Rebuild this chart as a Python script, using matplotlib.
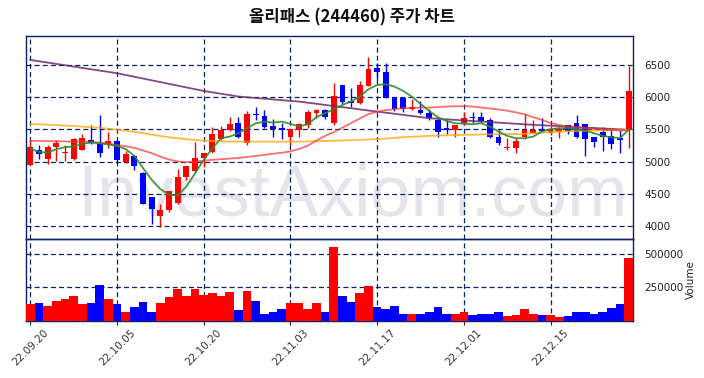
import matplotlib
matplotlib.use("Agg")
import matplotlib.pyplot as plt
import numpy as np

# ---------------- data ----------------
dates = ["22.09.20", "22.09.21", "22.09.22", "22.09.23", "22.09.26", "22.09.27", "22.09.28",
         "22.09.29", "22.09.30", "22.10.04", "22.10.05", "22.10.06", "22.10.07", "22.10.11",
         "22.10.12", "22.10.13", "22.10.14", "22.10.17", "22.10.18", "22.10.19", "22.10.20",
         "22.10.21", "22.10.24", "22.10.25", "22.10.26", "22.10.27", "22.10.28", "22.10.31",
         "22.11.01", "22.11.02", "22.11.03", "22.11.04", "22.11.07", "22.11.08", "22.11.09",
         "22.11.10", "22.11.11", "22.11.14", "22.11.15", "22.11.16", "22.11.17", "22.11.18",
         "22.11.21", "22.11.22", "22.11.23", "22.11.24", "22.11.25", "22.11.28", "22.11.29",
         "22.11.30", "22.12.01", "22.12.02", "22.12.05", "22.12.06", "22.12.07", "22.12.08",
         "22.12.09", "22.12.12", "22.12.13", "22.12.14", "22.12.15", "22.12.16", "22.12.19",
         "22.12.20", "22.12.21", "22.12.22", "22.12.23", "22.12.26", "22.12.27", "22.12.28"]

opens = [4947, 5184, 5040, 5226, 5140, 5045, 5190, 5339, 5277, 5277,
         5324, 4994, 5087, 4828, 4452, 4167, 4251, 4359, 4762, 4864,
         5060, 5149, 5350, 5494, 5607, 5297, 5745, 5710, 5556, 5530,
         5390, 5494, 5571, 5762, 5803, 5597, 6190, 5947, 5916, 6180,
         6449, 6387, 6000, 5985, 5819, 5803, 5752, 5649, 5520, 5494,
         5597, 5690, 5690, 5649, 5381, 5215, 5210, 5390, 5453, 5514,
         5443, 5458, 5571, 5597, 5582, 5390, 5468, 5401, 5365, 5494]
highs = [5339, 5262, 5262, 5339, 5262, 5370, 5432, 5571, 5721, 5463,
         5330, 5170, 5107, 4840, 4460, 4348, 4545, 4890, 4932, 5313,
         5138, 5545, 5556, 5700, 5700, 5788, 5855, 5803, 5659, 5597,
         5509, 5597, 5803, 5819, 5810, 6217, 6190, 6139, 6257, 6628,
         6526, 6526, 6000, 5985, 5974, 5947, 5814, 5675, 5649, 5571,
         5777, 5777, 5777, 5675, 5494, 5365, 5365, 5737, 5649, 5675,
         5560, 5545, 5571, 5720, 5582, 5390, 5545, 5494, 5494, 6485]
lows = [4947, 5040, 4963, 5014, 5014, 5030, 5184, 5277, 5071, 5215,
        4988, 4980, 4870, 4340, 4034, 3997, 4230, 4348, 4720, 4840,
        4917, 5138, 5339, 5478, 5365, 5267, 5649, 5520, 5381, 5354,
        5262, 5381, 5525, 5675, 5659, 5570, 5900, 5845, 5900, 6180,
        6268, 5985, 5788, 5777, 5803, 5741, 5649, 5381, 5427, 5381,
        5571, 5597, 5622, 5365, 5262, 5184, 5142, 5360, 5443, 5478,
        5410, 5370, 5432, 5370, 5091, 5226, 5165, 5200, 5133, 5210]
closes = [5226, 5122, 5230, 5293, 5150, 5354, 5370, 5288, 5133, 5324,
          5025, 5122, 4932, 4348, 4271, 4255, 4545, 4762, 4932, 5060,
          5138, 5432, 5494, 5587, 5381, 5741, 5730, 5545, 5514, 5494,
          5509, 5587, 5772, 5803, 5690, 6020, 5932, 5916, 6190, 6438,
          6387, 5985, 5824, 5824, 5850, 5752, 5675, 5458, 5494, 5571,
          5675, 5675, 5638, 5390, 5288, 5230, 5324, 5494, 5494, 5483,
          5510, 5509, 5483, 5390, 5350, 5313, 5390, 5272, 5339, 6097]
volumes = [128000, 135000, 114000, 150000, 165000, 187000, 128000, 135000, 267000, 165000,
           128000, 63000, 106000, 143000, 70000, 135000, 179000, 238000, 187000, 238000,
           194000, 208000, 187000, 216000, 84000, 223000, 150000, 55000, 63000, 92000,
           135000, 135000, 92000, 135000, 63000, 551000, 187000, 143000, 208000, 259000,
           106000, 92000, 114000, 55000, 55000, 48000, 70000, 106000, 55000, 48000,
           70000, 41000, 55000, 48000, 63000, 33000, 41000, 92000, 48000, 41000,
           41000, 26000, 33000, 70000, 63000, 55000, 63000, 99000, 128000, 471000]

ma5 = [5200, 5153, 5142, 5195, 5226, 5236, 5277, 5297, 5288, 5267,
       5246, 5195, 5091, 4901, 4720, 4576, 4488, 4480, 4616, 4823,
       5029, 5210, 5365, 5390, 5443, 5520, 5597, 5622, 5607, 5622,
       5587, 5545, 5582, 5690, 5752, 5814, 5881, 5932, 6010, 6124,
       6190, 6201, 6164, 6097, 6010, 5896, 5788, 5690, 5633, 5597,
       5590, 5582, 5597, 5545, 5468, 5401, 5365, 5365, 5390, 5468,
       5505, 5520, 5520, 5505, 5483, 5443, 5401, 5381, 5365, 5494]
ma20 = [5324, 5324, 5320, 5318, 5315, 5312, 5310, 5305, 5300, 5280,
        5262, 5240, 5215, 5175, 5133, 5080, 5035, 5005, 4995, 5000,
        5019, 5030, 5040, 5050, 5060, 5075, 5090, 5107, 5125, 5140,
        5160, 5200, 5250, 5330, 5400, 5460, 5530, 5600, 5670, 5740,
        5775, 5800, 5815, 5830, 5835, 5838, 5840, 5848, 5855, 5860,
        5862, 5855, 5840, 5825, 5810, 5790, 5765, 5735, 5690, 5649,
        5600, 5570, 5545, 5530, 5520, 5510, 5500, 5490, 5485, 5490]
ma60 = [5585, 5580, 5575, 5568, 5560, 5553, 5545, 5535, 5525, 5512,
        5498, 5482, 5465, 5445, 5420, 5400, 5380, 5365, 5350, 5338,
        5328, 5322, 5317, 5314, 5313, 5312, 5312, 5312, 5312, 5312,
        5312, 5312, 5315, 5318, 5322, 5326, 5330, 5335, 5340, 5345,
        5350, 5360, 5370, 5380, 5388, 5395, 5401, 5405, 5410, 5413,
        5417, 5420, 5422, 5424, 5426, 5428, 5430, 5432, 5440, 5450,
        5460, 5468, 5472, 5476, 5480, 5484, 5487, 5490, 5492, 5494]
ma120 = [6577, 6556, 6536, 6515, 6495, 6474, 6453, 6433, 6412, 6392,
         6371, 6344, 6316, 6289, 6261, 6234, 6206, 6179, 6151, 6124,
         6097, 6075, 6053, 6032, 6010, 5999, 5988, 5977, 5966, 5954,
         5943, 5932, 5915, 5898, 5880, 5863, 5846, 5829, 5811, 5794,
         5777, 5760, 5743, 5726, 5709, 5692, 5675, 5666, 5657, 5649,
         5640, 5632, 5623, 5615, 5606, 5598, 5589, 5580, 5573, 5566,
         5559, 5552, 5545, 5537, 5530, 5523, 5516, 5509, 5502, 5494]

price_ticks = [4000, 4500, 5000, 5500, 6000, 6500]
volume_ticks = [250000, 500000]
title = "올리패스 (244460) 주가 차트"
watermark = "InvestAxiom.com"

# ---------------- figure ----------------
navy = "#0d2260"
up_c, dn_c = "#ff0000", "#0000ff"

fig = plt.figure(figsize=(7.04, 3.78), dpi=100)
fig.patch.set_facecolor("white")
ax = fig.add_axes([0.037, 0.368, 0.862, 0.537])
axv = fig.add_axes([0.037, 0.151, 0.862, 0.217], sharex=ax)
for a in (ax, axv):
    a.set_facecolor("none")
    for s in a.spines.values():
        s.set_color(navy)
        s.set_linewidth(1.0)
    a.set_axisbelow(True)
    a.grid(True, linestyle=(0, (4, 2.5)), color=navy, linewidth=0.9)

x = np.arange(len(dates))
o = np.array(opens); h = np.array(highs); l = np.array(lows); c = np.array(closes)
cols = [up_c if cc >= oo else dn_c for oo, cc in zip(o, c)]

ax.vlines(x, l, h, colors=cols, linewidth=1.0, zorder=2)
body_b = np.minimum(o, c)
body_h = np.maximum(np.abs(c - o), 10)
ax.bar(x, body_h, bottom=body_b, width=0.68, color=cols, linewidth=0, zorder=3)

ax.plot(x, ma120, color="#6b2a6b", linewidth=1.3, alpha=0.85, zorder=4)
ax.plot(x, ma60, color="#ffa500", linewidth=1.3, alpha=0.75, zorder=4)
ax.plot(x, ma20, color="#ff3030", linewidth=1.3, alpha=0.7, zorder=4)
ax.plot(x, ma5, color="#2e8b2e", linewidth=1.3, alpha=0.9, zorder=5)

ax.set_xlim(-0.5, len(dates) - 0.5)
ax.set_ylim(3806, 6949)
ax.yaxis.tick_right()
ax.set_yticks(price_ticks)
ax.set_yticklabels([str(t) for t in price_ticks])
ax.tick_params(axis="y", length=0, pad=8, labelsize=7.5, labelcolor="#222222")
ax.tick_params(axis="x", length=0, labelbottom=False)

axv.bar(x, volumes, width=1.0, color=cols, linewidth=0, zorder=3)
axv.set_ylim(0, 610000)
axv.yaxis.tick_right()
axv.set_yticks(volume_ticks)
axv.set_yticklabels([str(t) for t in volume_ticks])
axv.tick_params(axis="y", length=0, pad=8, labelsize=7.5, labelcolor="#222222")
axv.yaxis.set_label_position("right")
axv.set_ylabel("Volume", fontsize=7.5, color="#222222", labelpad=2)

tick_pos = list(range(0, len(dates), 10))
axv.set_xticks(tick_pos)
axv.set_xticklabels([dates[i] for i in tick_pos], rotation=45, fontsize=7.5, color="#333333")
axv.tick_params(axis="x", length=3, color=navy, pad=2)

fig.text(0.5, 0.955, title, ha="center", va="center", fontsize=12, fontweight="bold",
         family=["Noto Sans CJK KR", "DejaVu Sans"], color="#111111")
fig.text(0.5, 1 - 215 / 378, watermark, ha="center", va="baseline", fontsize=52,
         family=["Liberation Sans", "DejaVu Sans"], color="#e4e4ea", zorder=-1)

fig.savefig("out.png", dpi=100)
